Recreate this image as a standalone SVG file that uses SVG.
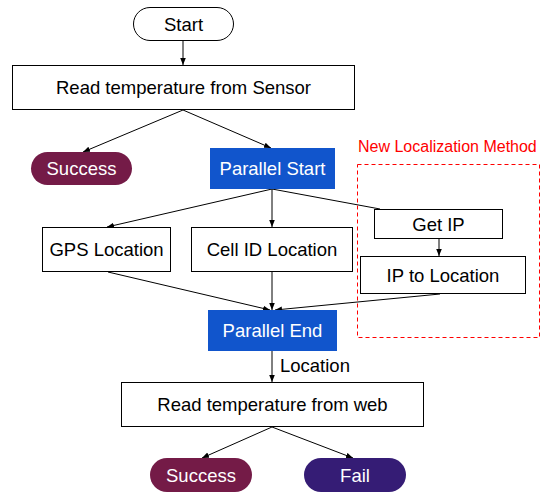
<svg xmlns="http://www.w3.org/2000/svg" width="546" height="496" viewBox="0 0 546 496">
<defs>
<marker id="ah" viewBox="0 0 10 10" refX="10" refY="5" markerWidth="7" markerHeight="7" markerUnits="userSpaceOnUse" orient="auto">
<path d="M0,1 L10,5 L0,9 z" fill="#000"/>
</marker>
<style>
.box{fill:#fff;stroke:#000;stroke-width:1}
.t{font-family:"Liberation Sans",Arial,sans-serif;font-size:18.5px;fill:#000;text-anchor:middle}
.w{fill:#fff}
.c{fill:none;stroke:#000;stroke-width:1}
.blue{fill:#1155cc}
.mag{fill:#741b47}
.pur{fill:#351c75}
</style>
</defs>
<rect width="546" height="496" fill="#fff"/>
<g id="connectors">
<line class="c" x1="183" y1="41" x2="183" y2="65" marker-end="url(#ah)"/>
<line class="c" x1="183" y1="110" x2="83" y2="152" marker-end="url(#ah)"/>
<line class="c" x1="183" y1="110" x2="271" y2="148" marker-end="url(#ah)"/>
<line class="c" x1="272" y1="189" x2="107" y2="227" marker-end="url(#ah)"/>
<line class="c" x1="272" y1="189" x2="272" y2="227" marker-end="url(#ah)"/>
<line class="c" x1="272" y1="189" x2="380" y2="209"/>
<line class="c" x1="439" y1="239" x2="439" y2="256" marker-end="url(#ah)"/>
<line class="c" x1="108" y1="272" x2="270" y2="310" marker-end="url(#ah)"/>
<line class="c" x1="272" y1="272" x2="272" y2="310" marker-end="url(#ah)"/>
<line class="c" x1="440" y1="294" x2="275" y2="310" marker-end="url(#ah)"/>
<line class="c" x1="272" y1="351" x2="272" y2="382" marker-end="url(#ah)"/>
<line class="c" x1="272" y1="427" x2="202" y2="458" marker-end="url(#ah)"/>
<line class="c" x1="272" y1="427" x2="353" y2="458" marker-end="url(#ah)"/>
</g>
<g id="group-new-localization">
<rect x="357.5" y="164.5" width="182" height="173" fill="none" stroke="#ff0000" stroke-width="1" stroke-dasharray="4,3"/>
<text x="358" y="152" font-family="'Liberation Sans',Arial,sans-serif" font-size="16" fill="#ff0000">New Localization Method</text>
</g>
<g id="start">
<rect class="box" x="133.5" y="7.5" width="100" height="33" rx="16.5" ry="16.5"/>
<text class="t" x="183.5" y="31">Start</text>
</g>
<g id="read-sensor">
<rect class="box" x="12.5" y="65.5" width="342" height="44"/>
<text class="t" x="183.5" y="94">Read temperature from Sensor</text>
</g>
<g id="success1">
<rect class="mag" x="31" y="152" width="101" height="33" rx="16.5" ry="16.5"/>
<text class="t w" x="81.5" y="175">Success</text>
</g>
<g id="parallel-start">
<rect class="blue" x="210" y="148" width="125" height="41"/>
<text class="t w" x="272.5" y="175">Parallel Start</text>
</g>
<g id="gps">
<rect class="box" x="42.5" y="227.5" width="128" height="44"/>
<text class="t" x="106.5" y="256">GPS Location</text>
</g>
<g id="cellid">
<rect class="box" x="191.5" y="227.5" width="161" height="44"/>
<text class="t" x="272" y="256">Cell ID Location</text>
</g>
<g id="getip">
<rect class="box" x="374.5" y="209.5" width="128" height="29"/>
<text class="t" x="438.5" y="231">Get IP</text>
</g>
<g id="iptoloc">
<rect class="box" x="360.5" y="256.5" width="165" height="37"/>
<text class="t" x="443" y="281.5">IP to Location</text>
</g>
<g id="parallel-end">
<rect class="blue" x="208" y="310" width="129" height="41"/>
<text class="t w" x="272.5" y="337">Parallel End</text>
</g>
<text class="t" x="280" y="372" text-anchor="start" style="text-anchor:start">Location</text>
<g id="read-web">
<rect class="box" x="121.5" y="382.5" width="302" height="44"/>
<text class="t" x="272.5" y="411">Read temperature from web</text>
</g>
<g id="success2">
<rect class="mag" x="150" y="458" width="102" height="34" rx="17" ry="17"/>
<text class="t w" x="201" y="481.5">Success</text>
</g>
<g id="fail">
<rect class="pur" x="304" y="458" width="102" height="34" rx="17" ry="17"/>
<text class="t w" x="355" y="481.5">Fail</text>
</g>
</svg>
